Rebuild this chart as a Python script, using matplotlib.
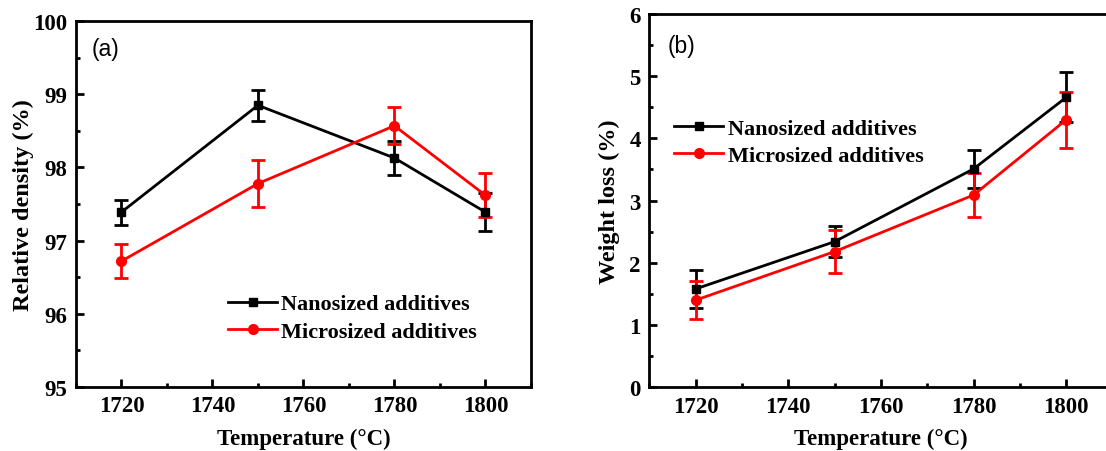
import matplotlib.pyplot as plt
from matplotlib.lines import Line2D
from matplotlib.ticker import MultipleLocator

temps = [1720, 1750, 1780, 1800]

# (a) relative density
dens_nano = [97.39, 98.85, 98.13, 97.39]
dens_nano_err = [0.17, 0.21, 0.23, 0.26]
dens_micro = [96.72, 97.78, 98.57, 97.62]
dens_micro_err = [0.23, 0.32, 0.25, 0.30]

# (b) weight loss
loss_nano = [1.58, 2.34, 3.51, 4.66]
loss_nano_err = [0.30, 0.25, 0.30, 0.40]
loss_micro = [1.40, 2.18, 3.09, 4.30]
loss_micro_err = [0.30, 0.35, 0.36, 0.45]

labels = ['Nanosized additives', 'Microsized additives']

plt.rcParams['font.family'] = ['Liberation Serif', 'DejaVu Serif']

fig = plt.figure(figsize=(11.06, 4.52), dpi=100)
ax1 = fig.add_axes([0.0687, 0.1416, 0.4113, 0.8094])
ax2 = fig.add_axes([0.587, 0.141, 0.419, 0.826])


def style(ax):
    for s in ax.spines.values():
        s.set_linewidth(2)
    ax.tick_params(which='both', direction='in', width=2, top=False, right=False)
    ax.tick_params(which='major', length=6, labelsize=16.5, pad=6)
    ax.tick_params(which='minor', length=3)
    for lab in ax.get_xticklabels() + ax.get_yticklabels():
        lab.set_fontweight('bold')
    ax.set_xlim(1710, 1810)
    ax.xaxis.set_major_locator(MultipleLocator(20))
    ax.xaxis.set_minor_locator(MultipleLocator(10))
    ax.set_xlabel('Temperature (\u00b0C)', fontsize=16.5, fontweight='bold', labelpad=8)


def plot_pair(ax, yn, en, ym, em):
    ax.errorbar(temps, yn, yerr=en, color='black', marker='s', ms=6, lw=2,
                elinewidth=2, capsize=5, capthick=2)
    ax.errorbar(temps, ym, yerr=em, color='red', marker='o', ms=7, lw=2,
                elinewidth=2, capsize=5, capthick=2)


def add_legend(ax, anchor):
    handles = [Line2D([], [], color='black', marker='s', ms=6, lw=2),
               Line2D([], [], color='red', marker='o', ms=7, lw=2)]
    ax.legend(handles, labels, loc='upper left', bbox_to_anchor=anchor, frameon=False,
              prop={'weight': 'bold', 'size': 16}, handlelength=2.2,
              handletextpad=0.2, labelspacing=0.3, borderpad=0)


plot_pair(ax1, dens_nano, dens_nano_err, dens_micro, dens_micro_err)
ax1.set_ylim(95, 100)
ax1.yaxis.set_major_locator(MultipleLocator(1))
ax1.yaxis.set_minor_locator(MultipleLocator(0.5))
style(ax1)
ax1.set_ylabel('Relative density (%)', fontsize=17.5, fontweight='bold')
ax1.yaxis.set_label_coords(-0.092, 0.5)
ax1.text(0.035, 0.925, '(a)', transform=ax1.transAxes, fontsize=16.5,
         family='Liberation Sans', va='center')
add_legend(ax1, (0.31, 0.285))

plot_pair(ax2, loss_nano, loss_nano_err, loss_micro, loss_micro_err)
ax2.set_ylim(0, 6)
ax2.yaxis.set_major_locator(MultipleLocator(1))
ax2.yaxis.set_minor_locator(MultipleLocator(0.5))
style(ax2)
ax2.set_ylabel('Weight loss (%)', fontsize=17.5, fontweight='bold')
ax2.yaxis.set_label_coords(-0.062, 0.5)
ax2.text(0.04, 0.915, '(b)', transform=ax2.transAxes, fontsize=16.5,
         family='Liberation Sans', va='center')
add_legend(ax2, (0.03, 0.75))

fig.savefig('out.png', dpi=100)
